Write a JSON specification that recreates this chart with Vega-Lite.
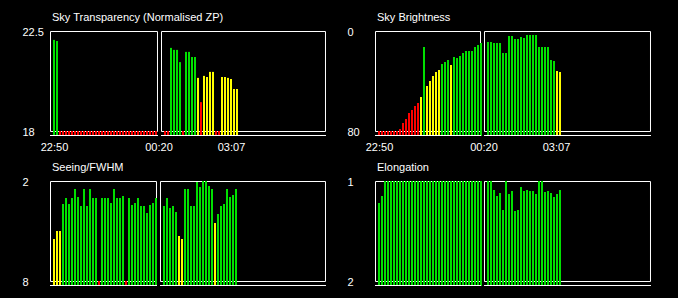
{
"$schema": "https://vega.github.io/schema/vega-lite/v6.json",
"background": "#000000",
"padding": {"left": 22, "top": 12, "right": 27, "bottom": 13},
"config": {
 "view": {"stroke": null},
 "axis": {"domain": false, "ticks": false, "tickSize": 0, "grid": false, "labelColor": "#ffffff", "labelFont": "Liberation Sans", "labelFontSize": 11, "labelOverlap": false, "labelFlush": false, "title": null},
 "axisY": {"labelAlign": "left", "labelPadding": 28, "labelBaseline": "middle", "labelOffset": 1, "labelExpr": "'' + datum.value"},
 "axisX": {"labelAlign": "center", "labelBaseline": "top", "labelPadding": 5},
 "title": {"color": "#ffffff", "font": "Liberation Sans", "fontSize": 11, "fontWeight": "normal", "anchor": "start", "frame": "group", "offset": 3, "dx": 2, "baseline": "alphabetic"}
},
"datasets": {
 "bars": [
  {"p":"st","x":0,"v":22.1,"q":"g"},{"p":"st","x":1,"v":22.05,"q":"g"},
  {"p":"st","x":2,"v":18,"q":"r"},{"p":"st","x":3,"v":18,"q":"r"},{"p":"st","x":4,"v":18,"q":"r"},{"p":"st","x":5,"v":18,"q":"r"},{"p":"st","x":6,"v":18,"q":"r"},{"p":"st","x":7,"v":18,"q":"r"},{"p":"st","x":8,"v":18,"q":"r"},{"p":"st","x":9,"v":18,"q":"r"},{"p":"st","x":10,"v":18,"q":"r"},{"p":"st","x":11,"v":18,"q":"r"},{"p":"st","x":12,"v":18,"q":"r"},{"p":"st","x":13,"v":18,"q":"r"},{"p":"st","x":14,"v":18,"q":"r"},{"p":"st","x":15,"v":18,"q":"r"},{"p":"st","x":16,"v":18,"q":"r"},{"p":"st","x":17,"v":18,"q":"r"},{"p":"st","x":18,"v":18,"q":"r"},{"p":"st","x":19,"v":18,"q":"r"},{"p":"st","x":20,"v":18,"q":"r"},{"p":"st","x":21,"v":18,"q":"r"},{"p":"st","x":22,"v":18,"q":"r"},{"p":"st","x":23,"v":18,"q":"r"},{"p":"st","x":24,"v":18,"q":"r"},{"p":"st","x":25,"v":18,"q":"r"},{"p":"st","x":26,"v":18,"q":"r"},{"p":"st","x":27,"v":18,"q":"r"},{"p":"st","x":28,"v":18,"q":"r"},{"p":"st","x":29,"v":18,"q":"r"},{"p":"st","x":30,"v":18,"q":"r"},{"p":"st","x":31,"v":18,"q":"r"},{"p":"st","x":32,"v":18,"q":"r"},{"p":"st","x":33,"v":18,"q":"r"},{"p":"st","x":34,"v":18,"q":"r"},
  {"p":"st","x":37,"v":18,"q":"r"},{"p":"st","x":38,"v":18,"q":"r"},{"p":"st","x":39,"v":21.74,"q":"g"},{"p":"st","x":40,"v":21.65,"q":"g"},{"p":"st","x":41,"v":21.65,"q":"g"},{"p":"st","x":42,"v":21.1,"q":"g"},{"p":"st","x":43,"v":18,"q":"r"},{"p":"st","x":44,"v":21.56,"q":"g"},{"p":"st","x":45,"v":21.56,"q":"g"},{"p":"st","x":46,"v":21.33,"q":"g"},{"p":"st","x":47,"v":21.33,"q":"g"},{"p":"st","x":48,"v":20.39,"q":"y"},{"p":"st","x":49,"v":19.3,"q":"r"},{"p":"st","x":50,"v":20.48,"q":"y"},{"p":"st","x":51,"v":20.43,"q":"y"},{"p":"st","x":52,"v":20.66,"q":"y"},{"p":"st","x":53,"v":20.66,"q":"y"},{"p":"st","x":54,"v":18,"q":"r"},{"p":"st","x":55,"v":18,"q":"r"},{"p":"st","x":56,"v":20.43,"q":"y"},{"p":"st","x":57,"v":20.43,"q":"y"},{"p":"st","x":58,"v":20.39,"q":"y"},{"p":"st","x":59,"v":20.34,"q":"y"},{"p":"st","x":60,"v":19.89,"q":"y"},{"p":"st","x":61,"v":19.89,"q":"y"},

  {"p":"sb","x":0,"v":80,"q":"r"},{"p":"sb","x":1,"v":80,"q":"r"},{"p":"sb","x":2,"v":80,"q":"r"},{"p":"sb","x":3,"v":80,"q":"r"},{"p":"sb","x":4,"v":80,"q":"r"},{"p":"sb","x":5,"v":80,"q":"r"},{"p":"sb","x":6,"v":80,"q":"r"},{"p":"sb","x":7,"v":78.4,"q":"r"},{"p":"sb","x":8,"v":73.6,"q":"r"},{"p":"sb","x":9,"v":70.4,"q":"r"},{"p":"sb","x":10,"v":65.6,"q":"r"},{"p":"sb","x":11,"v":63.2,"q":"r"},{"p":"sb","x":12,"v":60,"q":"r"},{"p":"sb","x":13,"v":57.6,"q":"r"},{"p":"sb","x":14,"v":52.8,"q":"y"},{"p":"sb","x":15,"v":12.8,"q":"g"},{"p":"sb","x":16,"v":44,"q":"y"},{"p":"sb","x":17,"v":40,"q":"y"},{"p":"sb","x":18,"v":36,"q":"y"},{"p":"sb","x":19,"v":32.8,"q":"y"},{"p":"sb","x":20,"v":31.2,"q":"y"},{"p":"sb","x":21,"v":26.4,"q":"g"},{"p":"sb","x":22,"v":24.8,"q":"g"},{"p":"sb","x":23,"v":23.2,"q":"g"},{"p":"sb","x":24,"v":27.2,"q":"y"},{"p":"sb","x":25,"v":20.8,"q":"g"},{"p":"sb","x":26,"v":21.6,"q":"g"},{"p":"sb","x":27,"v":20,"q":"g"},{"p":"sb","x":28,"v":17.6,"q":"g"},{"p":"sb","x":29,"v":16,"q":"g"},{"p":"sb","x":30,"v":16,"q":"g"},{"p":"sb","x":31,"v":16,"q":"g"},{"p":"sb","x":32,"v":12.8,"q":"g"},{"p":"sb","x":33,"v":11.2,"q":"g"},{"p":"sb","x":34,"v":9.6,"q":"g"},
  {"p":"sb","x":36.3333,"v":8.8,"q":"g"},{"p":"sb","x":37.3333,"v":8.8,"q":"g"},{"p":"sb","x":38.3333,"v":9.6,"q":"g"},{"p":"sb","x":39.3333,"v":9.6,"q":"g"},{"p":"sb","x":40.3333,"v":9.6,"q":"g"},{"p":"sb","x":41.3333,"v":17.6,"q":"g"},{"p":"sb","x":42.3333,"v":17.6,"q":"g"},{"p":"sb","x":43.3333,"v":4,"q":"g"},{"p":"sb","x":44.3333,"v":4,"q":"g"},{"p":"sb","x":45.3333,"v":6.4,"q":"g"},{"p":"sb","x":46.3333,"v":6.4,"q":"g"},{"p":"sb","x":47.3333,"v":4.8,"q":"g"},{"p":"sb","x":48.3333,"v":5.6,"q":"g"},{"p":"sb","x":49.3333,"v":3.2,"q":"g"},{"p":"sb","x":50.3333,"v":3.2,"q":"g"},{"p":"sb","x":51.3333,"v":3.2,"q":"g"},{"p":"sb","x":52.3333,"v":3.2,"q":"g"},{"p":"sb","x":53.3333,"v":12.8,"q":"g"},{"p":"sb","x":54.3333,"v":12.8,"q":"g"},{"p":"sb","x":55.3333,"v":12.8,"q":"g"},{"p":"sb","x":56.3333,"v":12.8,"q":"g"},{"p":"sb","x":57.3333,"v":23.2,"q":"g"},{"p":"sb","x":58.3333,"v":24,"q":"g"},{"p":"sb","x":59.3333,"v":32,"q":"y"},{"p":"sb","x":60.3333,"v":32.8,"q":"y"},

  {"p":"fw","x":0,"v":5.48,"q":"y"},{"p":"fw","x":1,"v":5,"q":"y"},{"p":"fw","x":2,"v":5,"q":"y"},{"p":"fw","x":3,"v":3.38,"q":"g"},{"p":"fw","x":4,"v":3.02,"q":"g"},{"p":"fw","x":5,"v":3.38,"q":"g"},{"p":"fw","x":6,"v":3.02,"q":"g"},{"p":"fw","x":7,"v":2.48,"q":"g"},{"p":"fw","x":8,"v":2.96,"q":"g"},{"p":"fw","x":9,"v":3.5,"q":"g"},{"p":"fw","x":10,"v":2.48,"q":"g"},{"p":"fw","x":11,"v":3.5,"q":"g"},{"p":"fw","x":12,"v":2.48,"q":"g"},{"p":"fw","x":13,"v":3.02,"q":"g"},{"p":"fw","x":14,"v":3.02,"q":"g"},{"p":"fw","x":15,"v":8,"q":"r"},{"p":"fw","x":16,"v":3.02,"q":"g"},{"p":"fw","x":17,"v":3.02,"q":"g"},{"p":"fw","x":18,"v":3.02,"q":"g"},{"p":"fw","x":19,"v":3.32,"q":"g"},{"p":"fw","x":20,"v":2.48,"q":"g"},{"p":"fw","x":21,"v":3.02,"q":"g"},{"p":"fw","x":22,"v":3.02,"q":"g"},{"p":"fw","x":23,"v":2.9,"q":"g"},{"p":"fw","x":24,"v":8,"q":"r"},{"p":"fw","x":25,"v":3.02,"q":"g"},{"p":"fw","x":26,"v":3.44,"q":"g"},{"p":"fw","x":27,"v":3.32,"q":"g"},{"p":"fw","x":28,"v":3.02,"q":"g"},{"p":"fw","x":29,"v":3.5,"q":"g"},{"p":"fw","x":30,"v":3.5,"q":"g"},{"p":"fw","x":31,"v":3.92,"q":"g"},{"p":"fw","x":32,"v":3.44,"q":"g"},{"p":"fw","x":33,"v":3.32,"q":"g"},{"p":"fw","x":34,"v":3.02,"q":"g"},
  {"p":"fw","x":36.6667,"v":3.5,"q":"g"},{"p":"fw","x":37.6667,"v":3.02,"q":"g"},{"p":"fw","x":38.6667,"v":3.62,"q":"g"},{"p":"fw","x":39.6667,"v":3.5,"q":"g"},{"p":"fw","x":40.6667,"v":3.86,"q":"g"},{"p":"fw","x":41.6667,"v":5.3,"q":"y"},{"p":"fw","x":42.6667,"v":5.48,"q":"y"},{"p":"fw","x":43.6667,"v":2.48,"q":"g"},{"p":"fw","x":44.6667,"v":2.48,"q":"g"},{"p":"fw","x":45.6667,"v":3.5,"q":"g"},{"p":"fw","x":46.6667,"v":3.5,"q":"g"},{"p":"fw","x":47.6667,"v":2.06,"q":"g"},{"p":"fw","x":48.6667,"v":2.36,"q":"g"},{"p":"fw","x":49.6667,"v":2,"q":"g"},{"p":"fw","x":50.6667,"v":2,"q":"g"},{"p":"fw","x":51.6667,"v":2.3,"q":"g"},{"p":"fw","x":52.6667,"v":2.48,"q":"g"},{"p":"fw","x":53.6667,"v":4.52,"q":"y"},{"p":"fw","x":54.6667,"v":3.98,"q":"g"},{"p":"fw","x":55.6667,"v":3.5,"q":"g"},{"p":"fw","x":56.6667,"v":3.38,"q":"g"},{"p":"fw","x":57.6667,"v":2.48,"q":"g"},{"p":"fw","x":58.6667,"v":2.96,"q":"g"},{"p":"fw","x":59.6667,"v":2.84,"q":"g"},{"p":"fw","x":60.6667,"v":2.48,"q":"g"},

  {"p":"el","x":0,"v":1.22,"q":"g"},{"p":"el","x":1,"v":1.15,"q":"g"},{"p":"el","x":2,"v":1,"q":"g"},{"p":"el","x":3,"v":1,"q":"g"},{"p":"el","x":4,"v":1,"q":"g"},{"p":"el","x":5,"v":1,"q":"g"},{"p":"el","x":6,"v":1,"q":"g"},{"p":"el","x":7,"v":1,"q":"g"},{"p":"el","x":8,"v":1,"q":"g"},{"p":"el","x":9,"v":1,"q":"g"},{"p":"el","x":10,"v":1,"q":"g"},{"p":"el","x":11,"v":1,"q":"g"},{"p":"el","x":12,"v":1,"q":"g"},{"p":"el","x":13,"v":1,"q":"g"},{"p":"el","x":14,"v":1,"q":"g"},{"p":"el","x":15,"v":1,"q":"g"},{"p":"el","x":16,"v":1,"q":"g"},{"p":"el","x":17,"v":1,"q":"g"},{"p":"el","x":18,"v":1,"q":"g"},{"p":"el","x":19,"v":1,"q":"g"},{"p":"el","x":20,"v":1,"q":"g"},{"p":"el","x":21,"v":1,"q":"g"},{"p":"el","x":22,"v":1,"q":"g"},{"p":"el","x":23,"v":1,"q":"g"},{"p":"el","x":24,"v":1,"q":"g"},{"p":"el","x":25,"v":1,"q":"g"},{"p":"el","x":26,"v":1,"q":"g"},{"p":"el","x":27,"v":1,"q":"g"},{"p":"el","x":28,"v":1,"q":"g"},{"p":"el","x":29,"v":1,"q":"g"},{"p":"el","x":30,"v":1,"q":"g"},{"p":"el","x":31,"v":1,"q":"g"},{"p":"el","x":32,"v":1,"q":"g"},{"p":"el","x":33,"v":1,"q":"g"},{"p":"el","x":34,"v":1,"q":"g"},
  {"p":"el","x":36.3333,"v":1,"q":"g"},{"p":"el","x":37.3333,"v":1,"q":"g"},{"p":"el","x":38.3333,"v":1.09,"q":"g"},{"p":"el","x":39.3333,"v":1.15,"q":"g"},{"p":"el","x":40.3333,"v":1.12,"q":"g"},{"p":"el","x":41.3333,"v":1.29,"q":"g"},{"p":"el","x":42.3333,"v":1,"q":"g"},{"p":"el","x":43.3333,"v":1.13,"q":"g"},{"p":"el","x":44.3333,"v":1.1,"q":"g"},{"p":"el","x":45.3333,"v":1.3,"q":"g"},{"p":"el","x":46.3333,"v":1.29,"q":"g"},{"p":"el","x":47.3333,"v":1.06,"q":"g"},{"p":"el","x":48.3333,"v":1.1,"q":"g"},{"p":"el","x":49.3333,"v":1.09,"q":"g"},{"p":"el","x":50.3333,"v":1.1,"q":"g"},{"p":"el","x":51.3333,"v":1.1,"q":"g"},{"p":"el","x":52.3333,"v":1.13,"q":"g"},{"p":"el","x":53.3333,"v":1,"q":"g"},{"p":"el","x":54.3333,"v":1,"q":"g"},{"p":"el","x":55.3333,"v":1.11,"q":"g"},{"p":"el","x":56.3333,"v":1.1,"q":"g"},{"p":"el","x":57.3333,"v":1.12,"q":"g"},{"p":"el","x":58.3333,"v":1.16,"q":"g"},{"p":"el","x":59.3333,"v":1.13,"q":"g"},{"p":"el","x":60.3333,"v":1.09,"q":"g"}
 ],
 "frames": [
  {"p":"st","x0":-1.3333,"x1":34.3333},{"p":"st","x0":35.6667,"x1":90.3333},
  {"p":"sb","x0":-1.3333,"x1":33.6667},{"p":"sb","x0":35,"x1":90.3333},
  {"p":"fw","x0":-1.3333,"x1":34},{"p":"fw","x0":35.3333,"x1":90.3333},
  {"p":"el","x0":-1.3333,"x1":33.6667},{"p":"el","x0":35,"x1":90.3333}
 ]
},
"columns": 2,
"spacing": {"row": 45, "column": 49},
"bounds": "flush",
"concat": [
 {
  "title": "Sky Transparency (Normalised ZP)",
  "width": 276, "height": 105,
  "layer": [
   {"data": {"name": "frames"}, "transform": [{"filter": "datum.p === 'st'"}],
    "mark": {"type": "rect", "fillOpacity": 0, "stroke": "#ffffff", "strokeWidth": 1, "xOffset": 0.5, "x2Offset": 0.5, "yOffset": 0.5, "y2Offset": 0.5},
    "encoding": {
     "x": {"field": "x0", "type": "quantitative", "scale": {"domain": [-1.3333, 90.6667], "nice": false, "zero": false, "padding": 0}, "axis": {"values": [0, 34.8333, 59], "labelExpr": "datum.value < 10 ? '22:50' : datum.value < 50 ? '00:20' : '03:07'", "title": null}},
     "x2": {"field": "x1"},
     "y": {"datum": 22.5, "type": "quantitative", "scale": {"domain": [17.775, 22.5], "nice": false, "zero": false, "padding": 0}, "axis": {"values": [18, 22.5], "title": null}},
     "y2": {"datum": 18}}},
   {"data": {"name": "bars"}, "transform": [{"filter": "datum.p === 'st'"}],
    "mark": {"type": "bar", "width": 2},
    "encoding": {
     "x": {"field": "x", "type": "quantitative", "axis": {"values": [0, 34.8333, 59], "labelExpr": "datum.value < 10 ? '22:50' : datum.value < 50 ? '00:20' : '03:07'", "title": null}},
     "y": {"field": "v", "type": "quantitative", "axis": {"values": [18, 22.5], "title": null}},
     "y2": {"datum": 17.775},
     "color": {"field": "q", "type": "nominal", "scale": {"domain": ["g", "y", "r"], "range": ["#00e000", "#ffff00", "#ff0000"]}, "legend": null}
    }},
   {"data": {"name": "frames"}, "transform": [{"filter": "datum.p === 'st'"}],
    "mark": {"type": "rule", "stroke": "#ffffff", "strokeWidth": 1, "yOffset": -0.5, "x2Offset": 1},
    "encoding": {
     "x": {"field": "x0", "type": "quantitative", "axis": {"values": [0, 34.8333, 59], "labelExpr": "datum.value < 10 ? '22:50' : datum.value < 50 ? '00:20' : '03:07'", "title": null}},
     "x2": {"field": "x1"},
     "y": {"datum": 17.775, "type": "quantitative", "axis": {"values": [18, 22.5], "title": null}}}}
  ]
 },
 {
  "title": "Sky Brightness",
  "width": 276, "height": 105,
  "layer": [
   {"data": {"name": "frames"}, "transform": [{"filter": "datum.p === 'sb'"}],
    "mark": {"type": "rect", "fillOpacity": 0, "stroke": "#ffffff", "strokeWidth": 1, "xOffset": 0.5, "x2Offset": 0.5, "yOffset": 0.5, "y2Offset": 0.5},
    "encoding": {
     "x": {"field": "x0", "type": "quantitative", "scale": {"domain": [-1.3333, 90.6667], "nice": false, "zero": false, "padding": 0}, "axis": {"values": [0, 34.8333, 59], "labelExpr": "datum.value < 10 ? '22:50' : datum.value < 50 ? '00:20' : '03:07'", "title": null}},
     "x2": {"field": "x1"},
     "y": {"datum": 0, "type": "quantitative", "scale": {"domain": [0, 84], "reverse": true, "nice": false, "zero": false, "padding": 0}, "axis": {"values": [0, 80], "title": null}},
     "y2": {"datum": 80}}},
   {"data": {"name": "bars"}, "transform": [{"filter": "datum.p === 'sb'"}],
    "mark": {"type": "bar", "width": 2},
    "encoding": {
     "x": {"field": "x", "type": "quantitative", "axis": {"values": [0, 34.8333, 59], "labelExpr": "datum.value < 10 ? '22:50' : datum.value < 50 ? '00:20' : '03:07'", "title": null}},
     "y": {"field": "v", "type": "quantitative", "axis": {"values": [0, 80], "title": null}},
     "y2": {"datum": 84},
     "color": {"field": "q", "type": "nominal", "scale": {"domain": ["g", "y", "r"], "range": ["#00e000", "#ffff00", "#ff0000"]}, "legend": null}
    }},
   {"data": {"name": "frames"}, "transform": [{"filter": "datum.p === 'sb'"}],
    "mark": {"type": "rule", "stroke": "#ffffff", "strokeWidth": 1, "yOffset": -0.5, "x2Offset": 1},
    "encoding": {
     "x": {"field": "x0", "type": "quantitative", "axis": {"values": [0, 34.8333, 59], "labelExpr": "datum.value < 10 ? '22:50' : datum.value < 50 ? '00:20' : '03:07'", "title": null}},
     "x2": {"field": "x1"},
     "y": {"datum": 84, "type": "quantitative", "axis": {"values": [0, 80], "title": null}}}}
  ]
 },
 {
  "title": "Seeing/FWHM",
  "width": 276, "height": 105,
  "layer": [
   {"data": {"name": "frames"}, "transform": [{"filter": "datum.p === 'fw'"}],
    "mark": {"type": "rect", "fillOpacity": 0, "stroke": "#ffffff", "strokeWidth": 1, "xOffset": 0.5, "x2Offset": 0.5, "yOffset": 0.5, "y2Offset": 0.5},
    "encoding": {
     "x": {"field": "x0", "type": "quantitative", "scale": {"domain": [-1.3333, 90.6667], "nice": false, "zero": false, "padding": 0}, "axis": {"values": [], "labels": false, "title": null}},
     "x2": {"field": "x1"},
     "y": {"datum": 2, "type": "quantitative", "scale": {"domain": [2, 8.3], "reverse": true, "nice": false, "zero": false, "padding": 0}, "axis": {"values": [2, 8], "title": null}},
     "y2": {"datum": 8}}},
   {"data": {"name": "bars"}, "transform": [{"filter": "datum.p === 'fw'"}],
    "mark": {"type": "bar", "width": 2},
    "encoding": {
     "x": {"field": "x", "type": "quantitative", "axis": {"values": [], "labels": false, "title": null}},
     "y": {"field": "v", "type": "quantitative", "axis": {"values": [2, 8], "title": null}},
     "y2": {"datum": 8.3},
     "color": {"field": "q", "type": "nominal", "scale": {"domain": ["g", "y", "r"], "range": ["#00e000", "#ffff00", "#ff0000"]}, "legend": null}
    }},
   {"data": {"name": "frames"}, "transform": [{"filter": "datum.p === 'fw'"}],
    "mark": {"type": "rule", "stroke": "#ffffff", "strokeWidth": 1, "yOffset": -0.5, "x2Offset": 1},
    "encoding": {
     "x": {"field": "x0", "type": "quantitative", "axis": {"values": [], "labels": false, "title": null}},
     "x2": {"field": "x1"},
     "y": {"datum": 8.3, "type": "quantitative", "axis": {"values": [2, 8], "title": null}}}}
  ]
 },
 {
  "title": "Elongation",
  "width": 276, "height": 105,
  "layer": [
   {"data": {"name": "frames"}, "transform": [{"filter": "datum.p === 'el'"}],
    "mark": {"type": "rect", "fillOpacity": 0, "stroke": "#ffffff", "strokeWidth": 1, "xOffset": 0.5, "x2Offset": 0.5, "yOffset": 0.5, "y2Offset": 0.5},
    "encoding": {
     "x": {"field": "x0", "type": "quantitative", "scale": {"domain": [-1.3333, 90.6667], "nice": false, "zero": false, "padding": 0}, "axis": {"values": [], "labels": false, "title": null}},
     "x2": {"field": "x1"},
     "y": {"datum": 1, "type": "quantitative", "scale": {"domain": [1, 2.05], "reverse": true, "nice": false, "zero": false, "padding": 0}, "axis": {"values": [1, 2], "title": null}},
     "y2": {"datum": 2}}},
   {"data": {"name": "bars"}, "transform": [{"filter": "datum.p === 'el'"}],
    "mark": {"type": "bar", "width": 2},
    "encoding": {
     "x": {"field": "x", "type": "quantitative", "axis": {"values": [], "labels": false, "title": null}},
     "y": {"field": "v", "type": "quantitative", "axis": {"values": [1, 2], "title": null}},
     "y2": {"datum": 2.05},
     "color": {"field": "q", "type": "nominal", "scale": {"domain": ["g", "y", "r"], "range": ["#00e000", "#ffff00", "#ff0000"]}, "legend": null}
    }},
   {"data": {"name": "frames"}, "transform": [{"filter": "datum.p === 'el'"}],
    "mark": {"type": "rule", "stroke": "#ffffff", "strokeWidth": 1, "yOffset": -0.5, "x2Offset": 1},
    "encoding": {
     "x": {"field": "x0", "type": "quantitative", "axis": {"values": [], "labels": false, "title": null}},
     "x2": {"field": "x1"},
     "y": {"datum": 2.05, "type": "quantitative", "axis": {"values": [1, 2], "title": null}}}}
  ]
 }
]
}
